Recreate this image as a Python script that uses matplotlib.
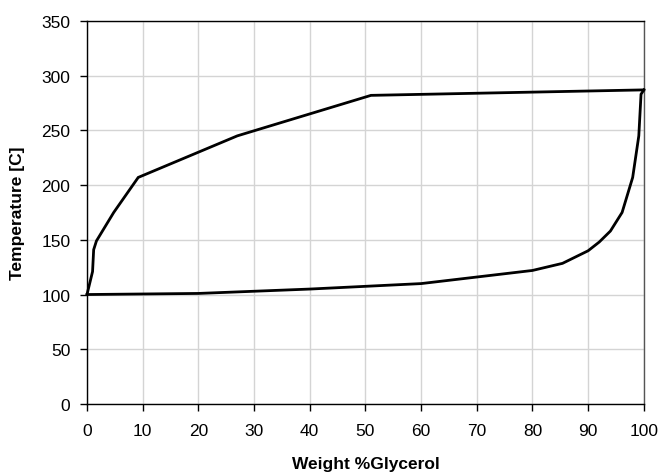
import numpy as np
import matplotlib.pyplot as plt

plt.rcParams['font.family'] = ['Liberation Sans', 'DejaVu Sans']

# dew point curve (vapour)
dew_x = [0, 1.0, 1.2, 1.7, 4.8, 9.2, 27, 51, 100]
dew_t = [100, 121, 141, 149, 175, 207, 245, 282, 287]

# bubble point curve (liquid)
bub_x = [0, 20, 40, 60, 80, 85.4, 90, 92, 94, 96.1, 98, 99.1, 99.5, 100]
bub_t = [100, 101, 105, 110, 122, 128.5, 140, 148, 158, 175, 207, 245, 283, 287]

xticks = np.arange(0, 101, 10)
yticks = np.arange(0, 351, 50)

fig = plt.figure(figsize=(6.61, 4.77), dpi=100)
ax = fig.add_axes([0.1316, 0.151, 0.8424, 0.803])

ax.plot(dew_x, dew_t, color='black', lw=2, solid_joinstyle='miter', zorder=3, clip_on=False)
ax.plot(bub_x, bub_t, color='black', lw=2, solid_joinstyle='miter', zorder=3, clip_on=False)

ax.set_xlim(0, 100)
ax.set_ylim(0, 350)
ax.set_xticks(xticks)
ax.set_yticks(yticks)
ax.grid(True, color='#d4d4d4', lw=1)
ax.set_axisbelow(True)

for s in ax.spines.values():
    s.set_color('black')
    s.set_linewidth(1)
ax.spines['right'].set_color('#555555')

ax.tick_params(direction='out', length=5, width=1, labelsize=12.5)
ax.tick_params(axis='x', pad=9)
ax.tick_params(axis='y', pad=7)
ax.set_xlabel('Weight %Glycerol', fontsize=12.5, fontweight='bold', labelpad=13)
ax.set_ylabel('Temperature [C]', fontsize=12.5, fontweight='bold', labelpad=12)

fig.savefig('out.png', dpi=100)
